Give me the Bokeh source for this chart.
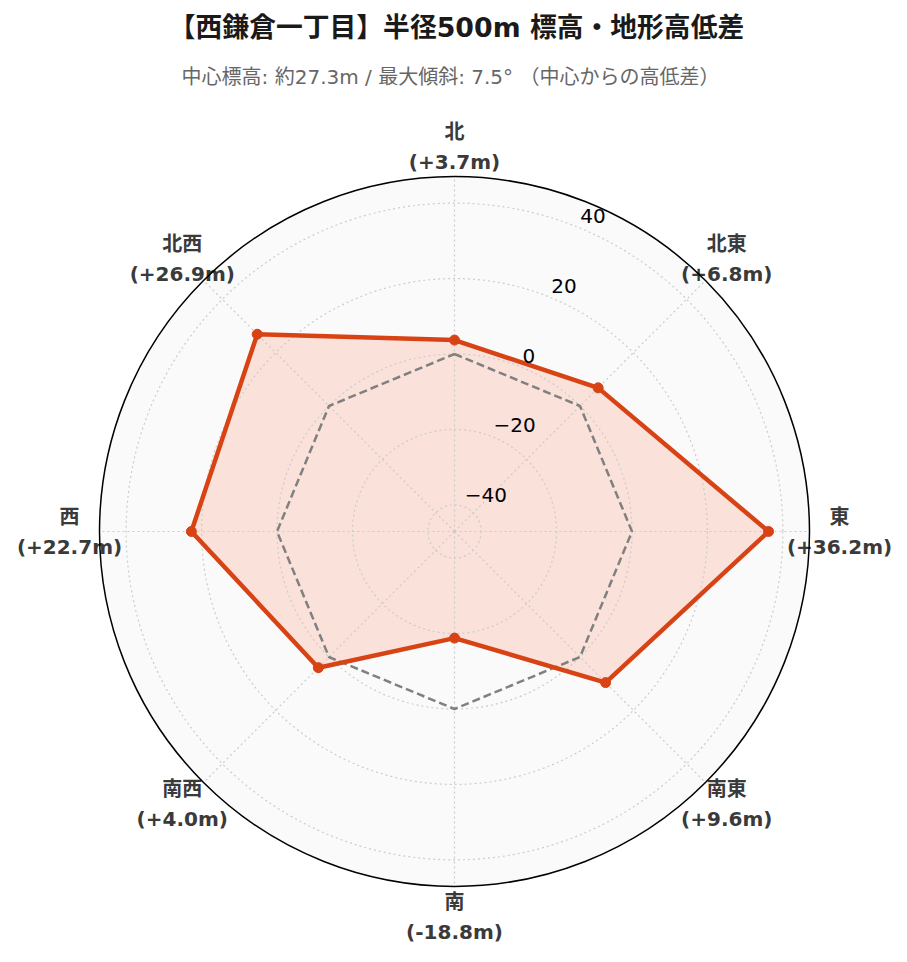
import numpy as np
from bokeh.plotting import figure
from bokeh.models import Range1d
from bokeh.core.properties import value
from bokeh.embed import file_html
from bokeh.resources import INLINE

# ---- data ----
directions = ["北", "北東", "東", "南東", "南", "南西", "西", "北西"]
angles_deg = [0, 45, 90, 135, 180, 225, 270, 315]   # clockwise from north
diffs = [3.7, 6.8, 36.2, 9.6, -18.8, 4.0, 22.7, 26.9]
r_ticks = [-40, -20, 0, 20, 40]
title_text = "【西鎌倉一丁目】半径500m 標高・地形高低差"
subtitle_text = "中心標高: 約27.3m / 最大傾斜: 7.5° （中心からの高低差）"

# ---- layout ----
W, H = 891, 946
CX, CY = 454, 531          # page coordinates of polar centre
R = 355                    # outer radius in px
RLIM = max(abs(v) for v in diffs) * 1.3
FONT = "DejaVu Sans, Noto Sans CJK JP"

def rpx(v):
    return (np.asarray(v, dtype=float) + RLIM) / (2 * RLIM) * R

def to_xy(vals, angs):
    r = rpx(vals)
    t = np.radians(np.asarray(angs, dtype=float))
    return CX + r * np.sin(t), CY - r * np.cos(t)

p = figure(width=W, height=H, x_range=Range1d(0, W), y_range=Range1d(H, 0),
           output_backend="svg", toolbar_location=None,
           x_axis_type=None, y_axis_type=None, min_border=0)
p.grid.visible = False
p.outline_line_color = None
p.background_fill_color = "white"

# background disc
p.circle(x=[CX], y=[CY], radius=R, fill_color="#fafafa", line_color=None)

# data polygon fill
xs, ys = to_xy(diffs, angles_deg)
xc = list(xs) + [xs[0]]
yc = list(ys) + [ys[0]]
p.patch(xc, yc, fill_color="#ff5722", fill_alpha=0.15, line_color=None)

# grid circles
p.circle(x=[CX] * len(r_ticks), y=[CY] * len(r_ticks), radius=list(rpx(r_ticks)),
         fill_color=None, line_color="#cccccc", line_width=1.2, line_dash="2 3")
# radial grid lines
gx, gy = to_xy([RLIM] * len(angles_deg), angles_deg)
p.multi_line(xs=[[CX, x] for x in gx], ys=[[CY, y] for y in gy],
             line_color="#cccccc", line_width=1.2, line_dash="2 3")

# zero reference octagon
zx, zy = to_xy([0] * len(angles_deg), angles_deg)
p.line(list(zx) + [zx[0]], list(zy) + [zy[0]], line_color="#808080",
       line_width=2.5, line_dash="8 4")

# data line & markers
p.line(xc, yc, line_color="#d84315", line_width=4.5, line_join="round")
p.scatter(xs, ys, size=10, fill_color="#d84315", line_color="#d84315")

# radial tick labels
tx, ty = to_xy(r_ticks, [22.5] * len(r_ticks))
p.text(x=tx, y=ty, text=[str(t).replace("-", "\u2212") for t in r_ticks],
       text_font=value(FONT), text_font_size="20px", text_color="#000000",
       text_align="left", text_baseline="bottom", y_offset=-5)

# angular labels
t = np.radians(np.asarray(angles_deg, dtype=float))
LR = 385
lx = CX + LR * np.sin(t)
ly = CY - LR * np.cos(t)
val_labels = ["(%+.1fm)" % v if v >= 0 else "(%.1fm)" % v for v in diffs]
p.text(x=lx, y=ly - 15, text=directions, text_font=value(FONT), text_font_size="20px",
       text_font_style="bold", text_color="#3a3a3a", text_align="center", text_baseline="middle")
p.text(x=lx, y=ly + 15, text=val_labels, text_font=value(FONT), text_font_size="20px",
       text_font_style="bold", text_color="#3a3a3a", text_align="center", text_baseline="middle")

# outer circle
p.circle(x=[CX], y=[CY], radius=R, fill_color=None, line_color="#000000", line_width=1.5)

# titles
p.text(x=[456], y=[27], text=[title_text], text_font=value(FONT), text_font_size="26.8px",
       text_font_style="bold", text_color="#1a1a1a", text_align="center", text_baseline="middle")
p.text(x=[450], y=[76], text=[subtitle_text], text_font=value(FONT), text_font_size="20px",
       text_color="#666666", text_align="center", text_baseline="middle")

open("out.html", "w").write(file_html(p, INLINE))
